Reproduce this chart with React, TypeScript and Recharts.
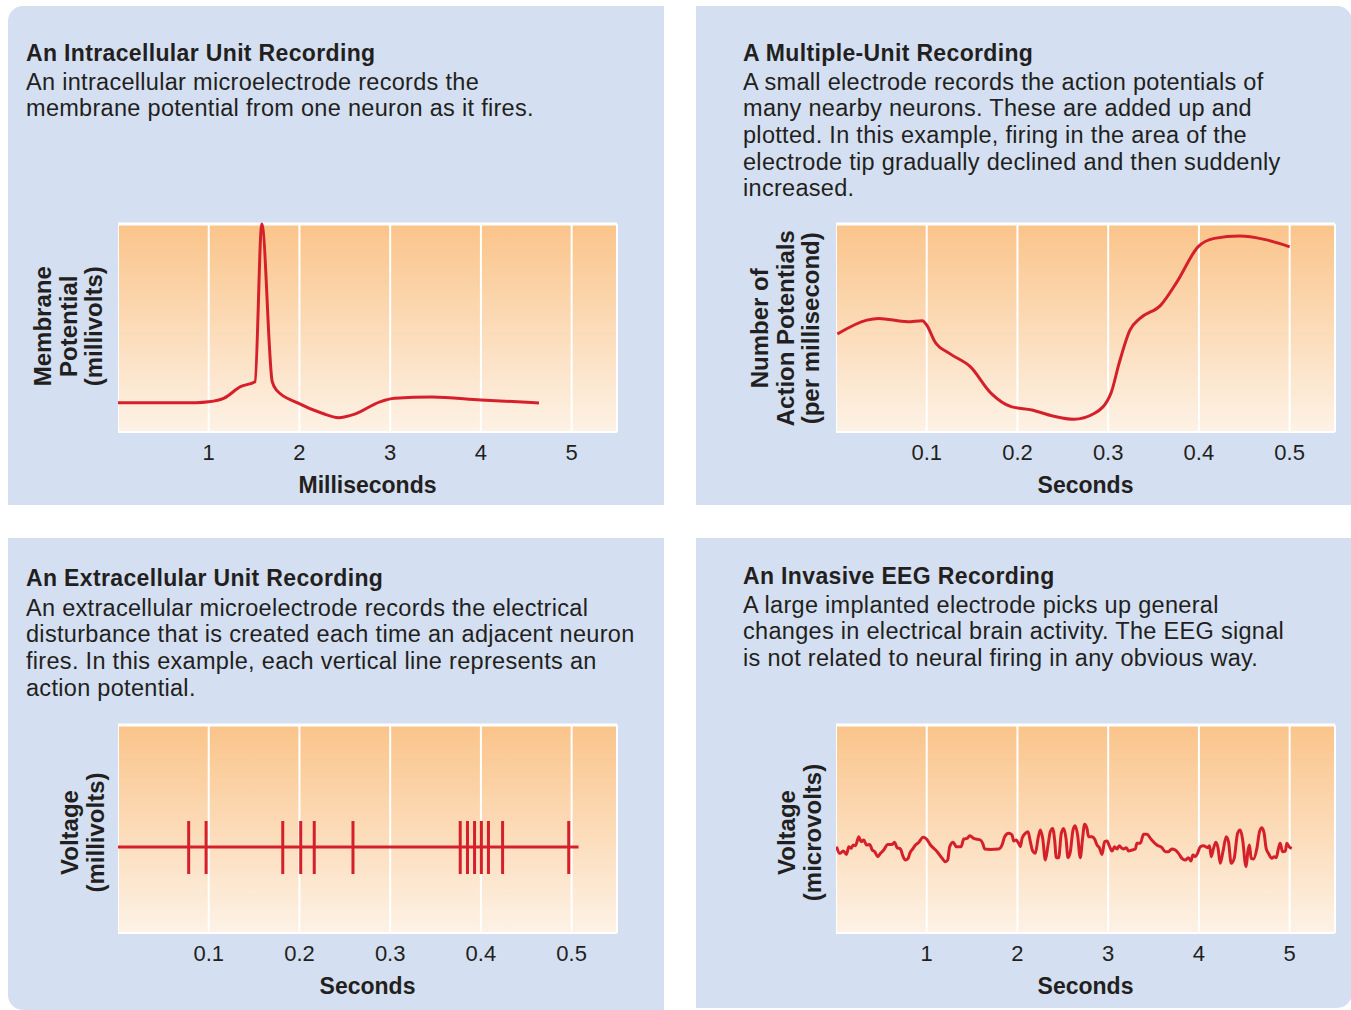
import { LineChart, Line, XAxis, YAxis, CartesianGrid, ReferenceLine } from "recharts";

const FONT = "'Liberation Sans', Arial, Helvetica, sans-serif";
const INK = "#231f20";
const RED = "#d5202b";
const PANEL_BG = "#d4e0f1";

// ---- axes ----
const msTicks = [1, 2, 3, 4, 5];
const secTicks = [0.1, 0.2, 0.3, 0.4, 0.5];
const eegTicks = [1, 2, 3, 4, 5];

// ---- intracellular recording: [milliseconds, potential (relative)] ----
const intracellular = [
  [0, 14.1], [0.5, 14.1], [0.86, 14.1], [1.0, 14.5], [1.17, 16.3], [1.35, 21.8],
  [1.51, 24.2], [1.585, 100], [1.7, 24.2], [1.75, 20], [1.98, 14], [2.25, 9],
  [2.43, 6.9], [2.61, 8.6], [2.88, 14.4], [3.05, 16.2], [3.46, 16.8], [4.0, 15.4],
  [4.64, 14],
];

// ---- multiple-unit recording: [seconds, firing rate (relative)] ----
const multiUnit = [
  [0.0015, 47.1], [0.034, 53.8], [0.047, 54.6], [0.079, 53], [0.095, 53.5], [0.1, 51.4],
  [0.109, 43.4], [0.125, 37.8], [0.148, 31.4], [0.171, 18.6], [0.193, 12.2], [0.216, 10.6],
  [0.239, 7.7], [0.262, 6.1], [0.285, 9], [0.303, 18.6], [0.312, 33], [0.324, 49],
  [0.335, 54.6], [0.358, 61], [0.376, 72.3], [0.399, 89], [0.417, 93.1], [0.445, 94.2],
  [0.472, 92.6], [0.5, 89],
];

// ---- extracellular recording: spike times (seconds) ----
const spikeTimes = [0.0779, 0.0971, 0.1816, 0.2014, 0.2163, 0.259, 0.3772, 0.3852, 0.393, 0.4005, 0.4083, 0.4239, 0.4968];
const spikeBase = 41.3;
const spikeTop = 53.8;
const spikeBottom = 28.4;
const spikeTraceEnd = 0.5076;

// ---- EEG recording: [seconds, voltage (relative)] ----
const eeg = [
  [0.006, 41.5], [0.042, 38.3], [0.079, 39.4], [0.116, 37.8], [0.141, 41.5], [0.167, 40.7],
  [0.189, 42.3], [0.215, 42], [0.251, 46.3], [0.277, 43.9], [0.306, 44.7], [0.336, 42.3],
  [0.372, 42.6], [0.399, 39.9], [0.427, 39.1], [0.46, 36.7], [0.49, 38.3], [0.526, 39.9],
  [0.57, 42.6], [0.619, 42.6], [0.644, 43.6], [0.674, 41], [0.71, 40.4], [0.74, 36.7],
  [0.765, 35.1], [0.795, 35.9], [0.813, 38.3], [0.85, 40.7], [0.876, 42.3], [0.912, 43.6],
  [0.96, 46], [0.997, 45.2], [1.041, 42.3], [1.115, 39.1], [1.17, 35.9], [1.206, 34.3],
  [1.231, 35.1], [1.253, 41.5], [1.291, 43.6], [1.327, 41.5], [1.379, 41.5], [1.408, 45.2],
  [1.445, 45.5], [1.474, 46.8], [1.518, 45.5], [1.591, 44.7], [1.617, 43.1], [1.639, 40.4],
  [1.701, 40.2], [1.793, 40.4], [1.83, 42.3], [1.859, 46.3], [1.903, 47.9], [1.941, 47.1],
  [1.958, 44.2], [1.985, 44.7], [2.013, 43.1], [2.032, 41.5], [2.051, 45.5], [2.087, 47.9],
  [2.117, 48.7], [2.142, 43.9], [2.168, 39.4], [2.197, 38.3], [2.227, 45.5], [2.252, 49.5],
  [2.278, 45.5], [2.307, 35.1], [2.337, 42.3], [2.362, 48.7], [2.388, 50.3], [2.41, 44.7],
  [2.428, 36.2], [2.454, 36.2], [2.483, 47.9], [2.509, 50.3], [2.535, 45.5], [2.557, 36.2],
  [2.583, 39.1], [2.612, 49.5], [2.637, 51.6], [2.663, 47.1], [2.692, 36.2], [2.718, 45.5],
  [2.74, 52.3], [2.766, 50.3], [2.784, 46.3], [2.822, 46.3], [2.85, 45.2], [2.877, 42.3],
  [2.903, 41], [2.932, 37.8], [2.961, 43.9], [2.987, 44.2], [3.016, 41.5], [3.042, 39.4],
  [3.071, 41.5], [3.097, 40.4], [3.122, 42], [3.152, 40.7], [3.17, 40.4], [3.2, 41],
  [3.225, 39.4], [3.262, 39.9], [3.299, 40.4], [3.317, 43.1], [3.354, 43.1], [3.39, 47.5],
  [3.427, 47.5], [3.471, 45.2], [3.537, 42.3], [3.592, 41], [3.629, 39.1], [3.665, 39.1],
  [3.702, 40.4], [3.739, 39.9], [3.775, 38.3], [3.813, 35.9], [3.849, 35.1], [3.885, 36.2],
  [3.912, 34.6], [3.934, 37.5], [3.96, 36.7], [3.985, 38.3], [4.015, 41.5], [4.051, 42],
  [4.095, 41], [4.117, 42], [4.136, 36.7], [4.161, 40.7], [4.188, 43.6], [4.21, 41],
  [4.235, 33.5], [4.265, 39.1], [4.301, 46.3], [4.326, 43.9], [4.356, 33.5], [4.389, 35.9],
  [4.426, 47.9], [4.455, 49.5], [4.485, 43.9], [4.51, 33.5], [4.521, 31.9], [4.539, 39.1],
  [4.557, 42.3], [4.576, 35.9], [4.601, 35.6], [4.639, 40.7], [4.668, 48.7], [4.694, 50.6],
  [4.719, 47.9], [4.741, 40.7], [4.767, 38.3], [4.804, 35.9], [4.83, 36.7], [4.852, 36.2],
  [4.877, 40.7], [4.896, 43.1], [4.921, 39.1], [4.952, 39.4], [4.969, 43.1], [4.994, 41.5],
  [5.024, 40.7],
];

const toRows = (pairs: number[][]) => pairs.map(([t, v]) => ({ t, v }));

const spikeRows = (() => {
  const rows = [{ t: 0, v: spikeBase }];
  spikeTimes.forEach((t) => {
    rows.push({ t, v: spikeBase }, { t, v: spikeTop }, { t, v: spikeBottom }, { t, v: spikeBase });
  });
  rows.push({ t: spikeTraceEnd, v: spikeBase });
  return rows;
})();

const PLOT_W = 499;
const PLOT_H = 208;

function Trace({ x, y, rows, domain, ticks, xLabel, curve, gradId }: any) {
  return (
    <div style={{ position: "absolute", left: x, top: y - 4 }}>
      <LineChart width={PLOT_W + 6} height={PLOT_H + 4 + 70} data={rows} margin={{ top: 4, right: 6, bottom: 0, left: 0 }}>
        <defs>
          <linearGradient id={gradId} x1="0" y1="0" x2="0" y2="1">
            <stop offset="0%" stopColor="#fac48a" />
            <stop offset="100%" stopColor="#fdf2e6" />
          </linearGradient>
        </defs>
        <CartesianGrid horizontal={false} stroke="#ffffff" strokeWidth={2} fill={`url(#${gradId})`} fillOpacity={1} />
        <XAxis
          type="number"
          dataKey="t"
          domain={domain}
          ticks={ticks}
          allowDataOverflow
          axisLine={false}
          tickLine={false}
          tickMargin={6}
          height={70}
          tick={{ fill: INK, fontSize: 22, fontFamily: FONT }}
          label={{ value: xLabel, position: "insideBottom", offset: 9, fill: INK, fontSize: 23, fontWeight: 700, fontFamily: FONT }}
        />
        <YAxis hide type="number" domain={[0, 100]} />
        <ReferenceLine y={100} stroke="#ffffff" strokeWidth={3} />
        <ReferenceLine y={0} stroke="#ffffff" strokeWidth={2} />
        <Line type={curve} dataKey="v" stroke={RED} strokeWidth={3} dot={false} activeDot={false} isAnimationActive={false} />
      </LineChart>
    </div>
  );
}

function Caption({ x, titleBase, bodyBase, title, lines }: any) {
  const common = { position: "absolute" as const, left: x, fontFamily: FONT, color: INK, lineHeight: "26.7px", whiteSpace: "nowrap" as const };
  return (
    <>
      <div style={{ ...common, top: titleBase - 21.3, fontSize: 23, fontWeight: 700, letterSpacing: 0.35 }}>{title}</div>
      <div style={{ ...common, top: bodyBase - 21.5, fontSize: 23.5, letterSpacing: 0.3 }}>
        {lines.map((l: string) => (
          <div key={l}>{l}</div>
        ))}
      </div>
    </>
  );
}

function YTitle({ cx, cy, lines }: any) {
  const lh = 25.5;
  const w = 260;
  return (
    <div
      style={{
        position: "absolute",
        left: cx - w / 2,
        top: cy - (lines.length * lh) / 2,
        width: w,
        lineHeight: `${lh}px`,
        textAlign: "center",
        transform: "rotate(-90deg)",
        fontFamily: FONT,
        fontWeight: 700,
        fontSize: 24,
        color: INK,
        whiteSpace: "nowrap",
      }}
    >
      {lines.map((l: string) => (
        <div key={l}>{l}</div>
      ))}
    </div>
  );
}

function Panel({ left, top, width, height, radius }: any) {
  return <div style={{ position: "absolute", left, top, width, height, background: PANEL_BG, borderRadius: radius }} />;
}

export default function App() {
  return (
    <div style={{ position: "absolute", left: 0, top: 0, width: 1351, height: 1010, background: "#fff", overflow: "hidden" }}>
      <Panel left={8} top={6} width={656} height={499} radius="15px 0 0 0" />
      <Panel left={696} top={6} width={656} height={499} radius="0 15px 0 0" />
      <Panel left={8} top={538} width={656} height={472} radius="0 0 0 15px" />
      <Panel left={696} top={538} width={656} height={470} radius="0 0 15px 0" />

      <Caption
        x={26}
        titleBase={61.5}
        bodyBase={90}
        title="An Intracellular Unit Recording"
        lines={["An intracellular microelectrode records the", "membrane potential from one neuron as it fires."]}
      />
      <Caption
        x={743}
        titleBase={61.5}
        bodyBase={90}
        title="A Multiple-Unit Recording"
        lines={[
          "A small electrode records the action potentials of",
          "many nearby neurons. These are added up and",
          "plotted. In this example, firing in the area of the",
          "electrode tip gradually declined and then suddenly",
          "increased.",
        ]}
      />
      <Caption
        x={26}
        titleBase={586.5}
        bodyBase={616}
        title="An Extracellular Unit Recording"
        lines={[
          "An extracellular microelectrode records the electrical",
          "disturbance that is created each time an adjacent neuron",
          "fires. In this example, each vertical line represents an",
          "action potential.",
        ]}
      />
      <Caption
        x={743}
        titleBase={584.5}
        bodyBase={613}
        title="An Invasive EEG Recording"
        lines={[
          "A large implanted electrode picks up general",
          "changes in electrical brain activity. The EEG signal",
          "is not related to neural firing in any obvious way.",
        ]}
      />

      <YTitle cx={68} cy={326} lines={["Membrane", "Potential", "(millivolts)"]} />
      <YTitle cx={785} cy={328} lines={["Number of", "Action Potentials", "(per millisecond)"]} />
      <YTitle cx={81.5} cy={832} lines={["Voltage", "(millivolts)"]} />
      <YTitle cx={798.5} cy={832} lines={["Voltage", "(microvolts)"]} />

      <Trace x={118} y={224} rows={toRows(intracellular)} domain={[0, 5.5]} ticks={msTicks} xLabel="Milliseconds" curve="monotone" gradId="g1" />
      <Trace x={836} y={224} rows={toRows(multiUnit)} domain={[0, 0.55]} ticks={secTicks} xLabel="Seconds" curve="monotone" gradId="g2" />
      <Trace x={118} y={725} rows={spikeRows} domain={[0, 0.55]} ticks={secTicks} xLabel="Seconds" curve="linear" gradId="g3" />
      <Trace x={836} y={725} rows={toRows(eeg)} domain={[0, 5.5]} ticks={eegTicks} xLabel="Seconds" curve="monotone" gradId="g4" />
    </div>
  );
}
